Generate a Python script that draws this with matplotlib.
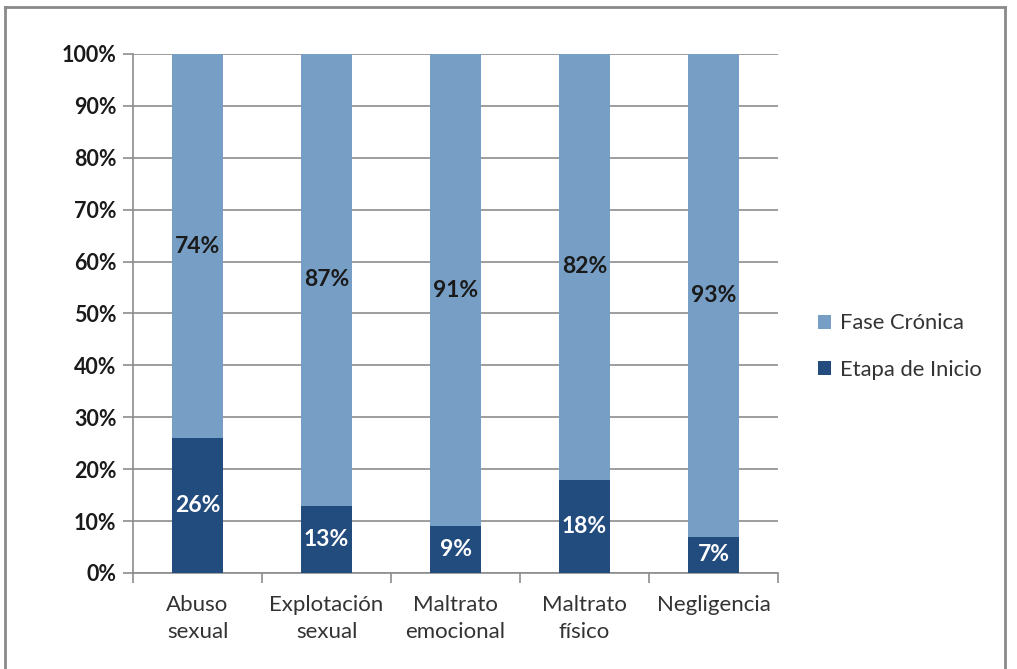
import matplotlib.pyplot as plt
from matplotlib.lines import Line2D

plt.rcParams['font.family'] = ['Lato', 'DejaVu Sans']

categories = ["Abuso\nsexual", "Explotación\nsexual", "Maltrato\nemocional", "Maltrato\nfísico", "Negligencia"]
inicio = [26, 13, 9, 18, 7]
cronica = [74, 87, 91, 82, 93]
yticks = [0, 10, 20, 30, 40, 50, 60, 70, 80, 90, 100]

light = "#779fc6"
dark = "#234c7e"

fig = plt.figure(figsize=(10.17, 6.69), dpi=100)
ax = fig.add_axes([0.1308, 0.1435, 0.765 - 0.1308, 0.9193 - 0.1435])

x = range(len(categories))
ax.bar(x, inicio, width=0.39, color=dark, label="Etapa de Inicio", zorder=3)
ax.bar(x, cronica, width=0.39, bottom=inicio, color=light, label="Fase Crónica", zorder=3)

for i in x:
    ax.text(i, inicio[i] / 2, f"{inicio[i]}%", ha="center", va="center",
            color="white", fontsize=16.5, fontweight="bold", zorder=4)
    ax.text(i, inicio[i] + cronica[i] / 2, f"{cronica[i]}%", ha="center", va="center",
            color="#1a1a1a", fontsize=16.5, fontweight="bold", zorder=4)

ax.set_xlim(-0.5, len(categories) - 0.5)
ax.set_ylim(0, 100)
ax.set_yticks(yticks)
ax.set_yticklabels([f"{v}%" for v in yticks], fontsize=15.5, fontweight="bold", color="#1a1a1a")
ax.set_xticks(list(x))
ax.set_xticklabels(categories, fontsize=16, color="#333333", linespacing=1.45)
ax.set_xticks([i - 0.5 for i in range(len(categories) + 1)], minor=True)
ax.tick_params(axis="x", which="major", length=0, pad=16)
ax.tick_params(axis="x", which="minor", length=7, color="#8c8c8c", width=1.2)
ax.tick_params(axis="y", length=7, color="#8c8c8c", width=1.2, direction="out", pad=5)

ax.grid(axis="y", color="#8c8c8c", linewidth=1.2, zorder=0)
for s in ["top", "right"]:
    ax.spines[s].set_visible(False)
for s in ["left", "bottom"]:
    ax.spines[s].set_color("#8c8c8c")
    ax.spines[s].set_linewidth(1.2)

handles, labels = ax.get_legend_handles_labels()
leg = fig.legend(handles[::-1], labels[::-1], loc="center left", bbox_to_anchor=(0.785, 0.482),
                 frameon=False, fontsize=15.8, handlelength=0.6, handleheight=0.6,
                 handletextpad=0.4, labelspacing=1.2)
for t in leg.get_texts():
    t.set_color("#333333")

# gray border around the figure
bc = "#8a8a8a"
fig.add_artist(Line2D([0.005, 0.005], [0, 0.99], color=bc, linewidth=2, transform=fig.transFigure))
fig.add_artist(Line2D([0.005, 0.988], [0.99, 0.99], color=bc, linewidth=2, transform=fig.transFigure))
fig.add_artist(Line2D([0.988, 0.988], [0, 0.99], color=bc, linewidth=2, transform=fig.transFigure))

fig.savefig("out.png", dpi=100)
